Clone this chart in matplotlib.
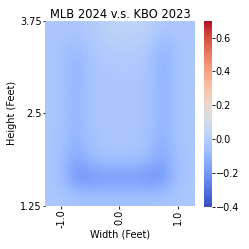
import numpy as np
import matplotlib
matplotlib.use("Agg")
import matplotlib.pyplot as plt

# grid centres (feet) and difference values
width_ft = [-1.25, -1.0, -0.75, -0.5, -0.25, 0.0, 0.25, 0.5, 0.75, 1.0, 1.25]
height_ft = [3.625, 3.375, 3.125, 2.875, 2.625, 2.375, 2.125, 1.875, 1.625, 1.375]
diff = [
    [-0.03, -0.03, -0.03, -0.02, 0.02, 0.04, 0.04, 0.02, -0.03, -0.03, -0.03],
    [-0.03, -0.04, -0.08, -0.03, -0.01, 0.00, 0.00, -0.02, -0.11, -0.04, -0.03],
    [-0.03, -0.04, -0.12, -0.04, -0.03, -0.02, -0.02, -0.04, -0.13, -0.04, -0.03],
    [-0.03, -0.04, -0.11, -0.04, -0.03, -0.03, -0.03, -0.04, -0.12, -0.04, -0.03],
    [-0.03, -0.04, -0.11, -0.04, -0.03, -0.03, -0.03, -0.04, -0.12, -0.04, -0.03],
    [-0.03, -0.04, -0.11, -0.04, -0.03, -0.03, -0.03, -0.04, -0.12, -0.04, -0.03],
    [-0.03, -0.04, -0.12, -0.05, -0.03, -0.03, -0.03, -0.05, -0.13, -0.04, -0.03],
    [-0.03, -0.05, -0.17, -0.08, -0.05, -0.05, -0.05, -0.08, -0.17, -0.05, -0.03],
    [-0.03, -0.05, -0.22, -0.23, -0.21, -0.21, -0.21, -0.23, -0.22, -0.05, -0.03],
    [-0.03, -0.03, -0.04, -0.05, -0.05, -0.05, -0.05, -0.05, -0.04, -0.03, -0.03],
]
x_ticks = [-1.0, 0.0, 1.0]
y_ticks = [1.25, 2.5, 3.75]

z = np.array(diff)
dx = width_ft[1] - width_ft[0]
dy = height_ft[0] - height_ft[1]
extent = [width_ft[0] - dx / 2, width_ft[-1] + dx / 2,
          height_ft[-1] - dy / 2, height_ft[0] + dy / 2]

fig = plt.figure(figsize=(2.49, 2.49), dpi=100)
ax = fig.add_axes([0.181, 0.172, 0.602, 0.745])
cax = fig.add_axes([0.818, 0.170, 0.035, 0.747])

im = ax.imshow(z, cmap="coolwarm", vmin=-0.4, vmax=0.7, extent=extent,
               interpolation="bicubic", aspect="auto", origin="upper")
ax.set_xlim(-1.275, 1.30)
ax.set_ylim(1.25, 3.75)
for s in ax.spines.values():
    s.set_visible(False)

ax.set_xticks(x_ticks)
ax.set_xticklabels([f"{v:.1f}" for v in x_ticks], rotation=90)
ax.set_yticks(y_ticks)
ax.set_yticklabels(["1.25", "2.5", "3.75"])
ax.tick_params(labelsize=7, length=1.8, width=0.6, pad=0.5)
ax.set_xlabel("Width (Feet)", fontsize=7, labelpad=1)
ax.set_ylabel("Height (Feet)", fontsize=7, labelpad=2)
ax.set_title("MLB 2024 v.s. KBO 2023", fontsize=8.3, pad=2)

cb = fig.colorbar(im, cax=cax)
cb.outline.set_visible(False)
cb.set_ticks([-0.4, -0.2, 0.0, 0.2, 0.4, 0.6])
cb.ax.tick_params(labelsize=7, length=1.8, width=0.6, pad=0.5)

fig.savefig("out.png", dpi=100)
